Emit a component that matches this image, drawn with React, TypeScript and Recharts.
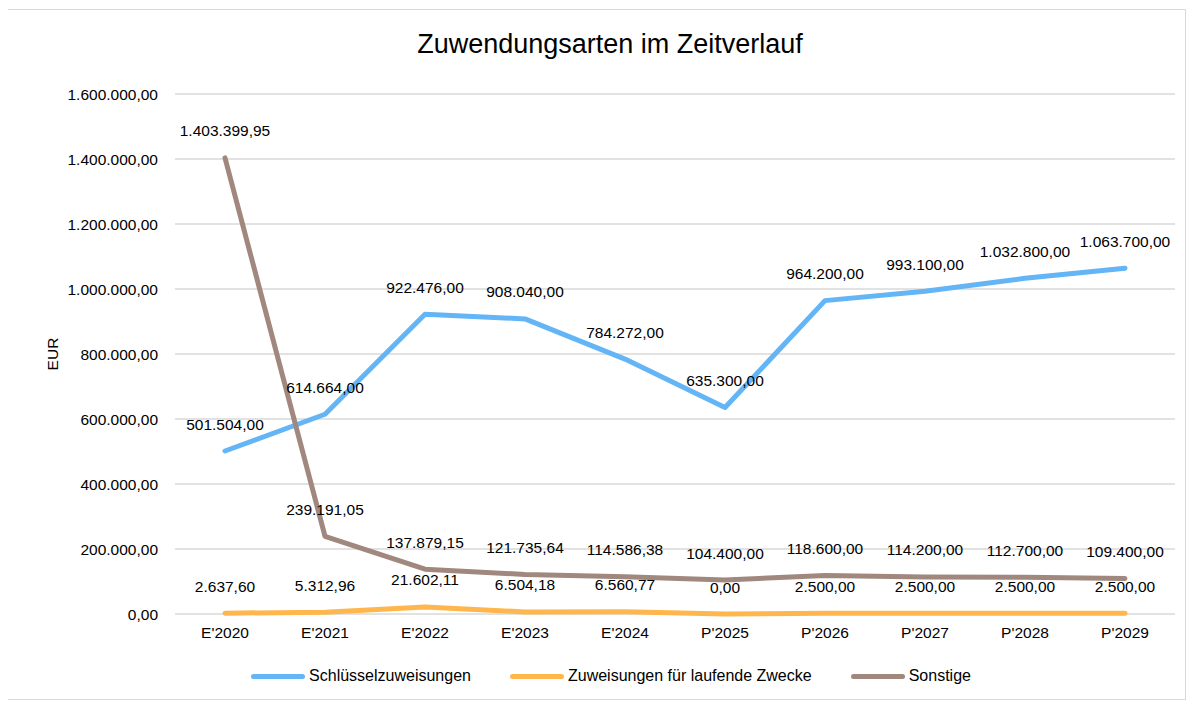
import { LineChart, Line, XAxis, YAxis, CartesianGrid, Legend, Label } from 'recharts';

const years = ["E'2020", "E'2021", "E'2022", "E'2023", "E'2024", "P'2025", "P'2026", "P'2027", "P'2028", "P'2029"];
const schluessel = [501504, 614664, 922476, 908040, 784272, 635300, 964200, 993100, 1032800, 1063700];
const laufende = [2637.6, 5312.96, 21602.11, 6504.18, 6560.77, 0, 2500, 2500, 2500, 2500];
const sonstige = [1403399.95, 239191.05, 137879.15, 121735.64, 114586.38, 104400, 118600, 114200, 112700, 109400];
const yTicks = [0, 200000, 400000, 600000, 800000, 1000000, 1200000, 1400000, 1600000];

const series = [
  { key: 'schluessel', name: 'Schlüsselzuweisungen', color: '#64B5F6' },
  { key: 'laufende', name: 'Zuweisungen für laufende Zwecke', color: '#FFB74D' },
  { key: 'sonstige', name: 'Sonstige', color: '#A1887F' },
];

const chartData = years.map((year, i) => ({
  year,
  schluessel: schluessel[i],
  laufende: laufende[i],
  sonstige: sonstige[i],
}));

function formatDe(v: number) {
  const fixed = Math.abs(v).toFixed(2);
  const [intPart, dec] = fixed.split('.');
  const grouped = intPart.replace(/\B(?=(\d{3})+(?!\d))/g, '.');
  return (v < 0 ? '-' : '') + grouped + ',' + dec;
}

const FONT = '"Liberation Sans", Arial, sans-serif';

function ValueLabel(props: any) {
  const { x, y, value } = props;
  if (x == null || y == null) return null;
  return (
    <text x={x} y={y - 27} textAnchor="middle" dominantBaseline="central" fontSize={15.5} fill="#000" fontFamily={FONT}>
      {formatDe(Number(value))}
    </text>
  );
}

function LegendContent() {
  return (
    <div style={{ display: 'flex', justifyContent: 'center', alignItems: 'center', height: 24, paddingLeft: 22, boxSizing: 'border-box', fontSize: 16, color: '#000', fontFamily: FONT }}>
      {series.map((s) => (
        <div key={s.key} style={{ display: 'flex', alignItems: 'center', margin: '0 19.5px' }}>
          <div style={{ width: 54, height: 5, borderRadius: 3, background: s.color, marginRight: 4 }} />
          <span>{s.name}</span>
        </div>
      ))}
    </div>
  );
}

export default function App() {
  return (
    <div
      style={{
        position: 'relative',
        width: 1178,
        height: 689,
        border: '1px solid #d9d9d9',
        marginLeft: -2,
        marginTop: 1,
        background: '#fff',
        fontFamily: FONT,
      }}
    >
      <div style={{ position: 'absolute', top: 21, left: 28, right: 0, textAlign: 'center', fontSize: 27, lineHeight: '27px', color: '#000' }}>
        Zuwendungsarten im Zeitverlauf
      </div>
      <LineChart width={1178} height={689} data={chartData} margin={{ top: 84, right: 10, bottom: 31, left: 18 }}>
        <CartesianGrid vertical={false} stroke="#d9d9d9" strokeWidth={1.5} />
        <XAxis
          dataKey="year"
          axisLine={false}
          tickLine={false}
          tickSize={0}
          tickMargin={13}
          padding={{ left: 50, right: 50 }}
          tick={{ fontSize: 15.5, fill: '#000', fontFamily: FONT }}
          interval={0}
        />
        <YAxis
          width={150}
          domain={[0, 1600000]}
          ticks={yTicks}
          axisLine={false}
          tickLine={false}
          tickSize={0}
          tickMargin={17}
          tickFormatter={formatDe}
          tick={{ fontSize: 15.5, fill: '#000', fontFamily: FONT }}
        >
          <Label value="EUR" angle={-90} position="insideLeft" offset={27} style={{ textAnchor: 'middle', fontSize: 15.5, fill: '#000', fontFamily: FONT }} />
        </YAxis>
        <Legend verticalAlign="bottom" content={<LegendContent />} wrapperStyle={{ bottom: 11 }} />
        {series.map((s) => (
          <Line
            key={s.key}
            type="linear"
            dataKey={s.key}
            name={s.name}
            stroke={s.color}
            strokeWidth={5}
            strokeLinecap="round"
            strokeLinejoin="round"
            dot={false}
            activeDot={false}
            isAnimationActive={false}
            label={<ValueLabel />}
          />
        ))}
      </LineChart>
    </div>
  );
}
